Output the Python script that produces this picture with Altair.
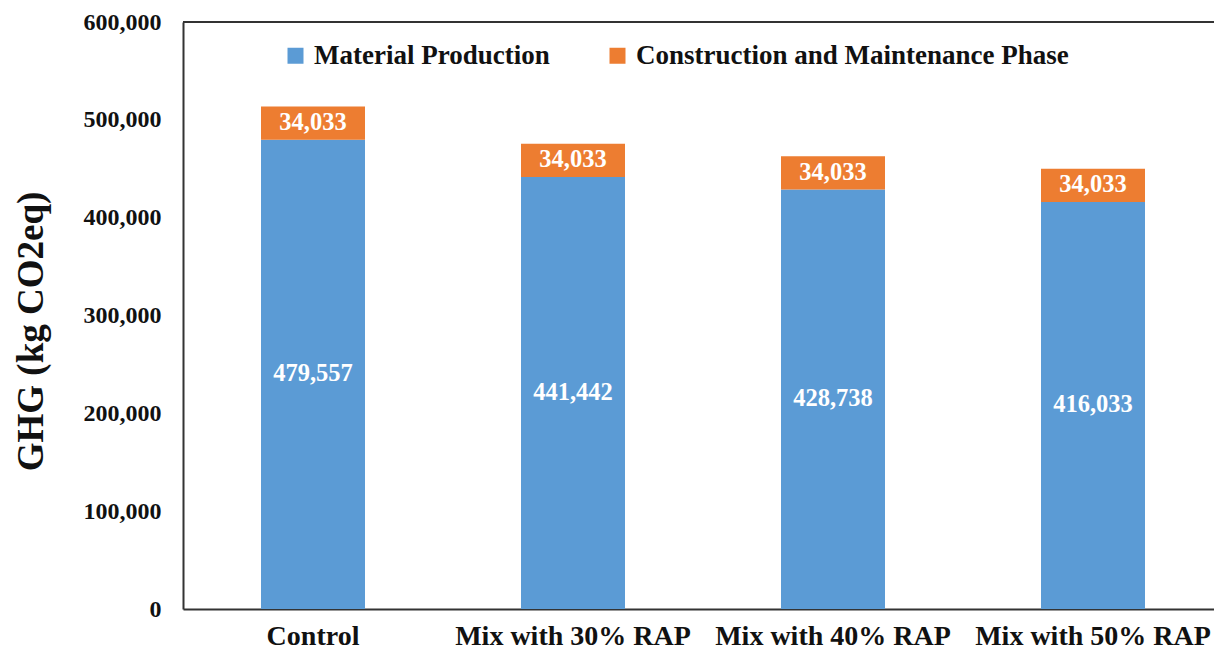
import altair as alt
import pandas as pd

# GHG emissions per pavement mix (kg CO2eq)
categories = ["Control", "Mix with 30% RAP", "Mix with 40% RAP", "Mix with 50% RAP"]
material_production = [479557, 441442, 428738, 416033]
construction_maintenance = [34033, 34033, 34033, 34033]
phases = ["Material Production", "Construction and Maintenance Phase"]
phase_colors = ["#5B9BD5", "#ED7D31"]
y_ticks = [0, 100000, 200000, 300000, 400000, 500000, 600000]

rows = []
for cat, mat, con in zip(categories, material_production, construction_maintenance):
    rows.append({"mix": cat, "phase": phases[0], "order": 0, "value": mat,
                 "start": 0, "end": mat, "mid": mat / 2})
    rows.append({"mix": cat, "phase": phases[1], "order": 1, "value": con,
                 "start": mat, "end": mat + con, "mid": mat + con / 2})
df = pd.DataFrame(rows)

FONT = "Times New Roman, Liberation Serif, DejaVu Serif, serif"

x_enc = alt.X(
    "mix:N", sort=categories, title=None,
    scale=alt.Scale(paddingInner=0.6, paddingOuter=0.3, range=[0, 1040]),
    axis=alt.Axis(labelAngle=0, labelFont=FONT, labelFontWeight="bold",
                  labelFontSize=28, labelColor="#111111", labelPadding=13,
                  labelLimit=600, ticks=False, domainColor="#333333", domainWidth=2),
)
y_scale = alt.Scale(domain=[0, 600000], nice=False)

bars = alt.Chart(df).mark_bar().encode(
    x=x_enc,
    y=alt.Y("start:Q", scale=y_scale,
            title="GHG (kg CO2eq)",
            axis=alt.Axis(values=y_ticks, format=",.0f", grid=False, ticks=False,
                          labelFont=FONT, labelFontWeight="bold", labelFontSize=24,
                          labelColor="#111111", labelPadding=22,
                          domainColor="#333333", domainWidth=2,
                          titleFont=FONT, titleFontWeight="bold", titleFontSize=37,
                          titleColor="#111111", titleX=-152, titleY=309,
                          titleBaseline="middle")),
    y2="end:Q",
    color=alt.Color("phase:N", sort=phases,
                    scale=alt.Scale(domain=phases, range=phase_colors),
                    legend=alt.Legend(title=None, orient="none", direction="horizontal",
                                      legendX=99, legendY=20,
                                      symbolType="square", symbolSize=256,
                                      symbolStrokeWidth=0, symbolOpacity=1,
                                      labelFont=FONT, labelFontWeight="bold",
                                      labelFontSize=27, labelColor="#111111",
                                      labelOffset=5, columnPadding=54,
                                      labelLimit=600)),
    order=alt.Order("order:Q"),
)

labels = alt.Chart(df).mark_text(
    color="white", font=FONT, fontWeight="bold", fontSize=24.5, baseline="middle"
).encode(
    x=alt.X("mix:N", sort=categories),
    y=alt.Y("mid:Q", scale=y_scale),
    text=alt.Text("value:Q", format=",.0f"),
)

top_line = alt.Chart(df).mark_rule(color="#333333", strokeWidth=2).encode(
    y=alt.datum(600000, scale=y_scale)
)

chart = alt.layer(bars, labels, top_line).properties(
    width=1031, height=587,
    autosize=alt.AutoSizeParams(type="none"),
    padding={"left": 183, "top": 22, "right": 0, "bottom": 41},
    background="white",
).configure_view(stroke=None)

chart.save("out.html", embed_options={"renderer": "svg", "actions": False})
